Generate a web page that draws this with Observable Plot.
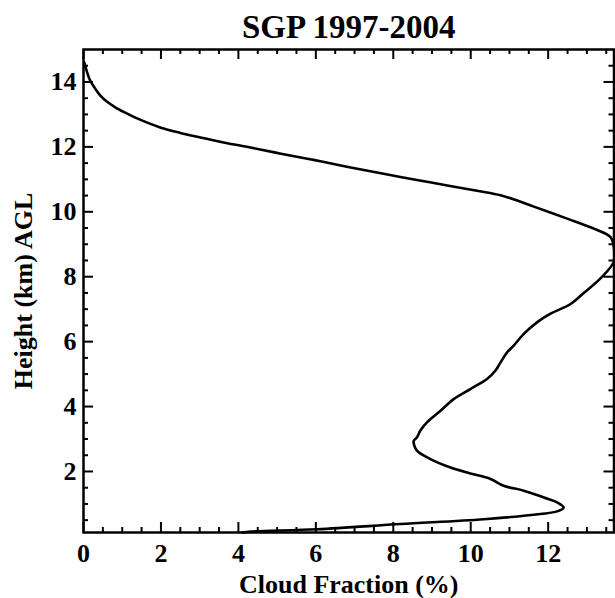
<!DOCTYPE html>
<html><head><meta charset="utf-8">
<script src="https://cdn.jsdelivr.net/npm/d3@7"></script>
<script src="https://cdn.jsdelivr.net/npm/@observablehq/plot@0.6"></script>
<style>html,body{margin:0;padding:0;background:#fff}</style>
</head><body><div id="chart"></div>
<script>
const titleText = "SGP 1997-2004";
const xLabel = "Cloud Fraction (%)";
const yLabel = "Height (km) AGL";

// Cloud fraction (%) profile, top to bottom
const cloudFraction = [0.02, 0.08, 0.17, 0.30, 0.43, 0.62, 0.82, 1.05, 1.34, 1.98, 2.50, 3.02, 3.65, 4.31, 5.10, 5.94, 6.80, 7.75, 8.61, 9.50, 10.20, 10.77, 11.20, 11.63, 12.49, 13.18, 13.61, 13.70, 13.69, 13.35, 12.92, 12.58, 12.06, 11.72, 11.37, 11.11, 10.94, 10.77, 10.64, 10.42, 9.99, 9.56, 9.22, 8.87, 8.70, 8.61, 8.53, 8.53, 8.61, 8.96, 9.48, 9.99, 10.51, 10.85, 11.37, 11.89, 12.23, 12.40, 12.23, 11.80, 10.34, 8.18, 6.03, 4.31, 4.10];
const heightKm = [14.60, 14.35, 14.05, 13.80, 13.59, 13.38, 13.22, 13.07, 12.90, 12.60, 12.43, 12.29, 12.13, 11.98, 11.79, 11.60, 11.39, 11.17, 10.98, 10.79, 10.64, 10.51, 10.35, 10.16, 9.79, 9.48, 9.22, 8.87, 8.45, 7.95, 7.50, 7.16, 6.86, 6.60, 6.24, 5.88, 5.67, 5.36, 5.11, 4.85, 4.54, 4.23, 3.87, 3.51, 3.26, 3.05, 2.95, 2.85, 2.64, 2.38, 2.12, 1.94, 1.77, 1.56, 1.41, 1.20, 1.05, 0.89, 0.77, 0.69, 0.53, 0.38, 0.22, 0.15, 0.12];

const xMajorTicks = [0, 2, 4, 6, 8, 10, 12];
const xMinorTicks = [0.5, 1, 1.5, 2.5, 3, 3.5, 4.5, 5, 5.5, 6.5, 7, 7.5, 8.5, 9, 9.5, 10.5, 11, 11.5, 12.5, 13, 13.5];
const yMajorTicks = [2, 4, 6, 8, 10, 12, 14];
const yMinorTicks = [0.5, 1, 1.5, 2.5, 3, 3.5, 4.5, 5, 5.5, 6.5, 7, 7.5, 8.5, 9, 9.5, 10.5, 11, 11.5, 12.5, 13, 13.5, 14.5];

const profile = cloudFraction.map((v, i) => ({cf: v, h: heightKm[i]}));
const serif = "'Liberation Serif', 'Times New Roman', 'DejaVu Serif', serif";

const W = 615, H = 598, mL = 83, mR = 1.5, mT = 49, mB = 66;
const plotW = W - mL - mR, plotH = H - mT - mB;
const majorLen = 10, minorLen = 5;
const tickStyle = {stroke: "#000", strokeWidth: 2};

const chart = Plot.plot({
  width: W,
  height: H,
  marginLeft: mL,
  marginRight: mR,
  marginTop: mT,
  marginBottom: mB,
  style: {fontFamily: serif, fontWeight: "bold", fontSize: "26px", color: "#000", background: "#fff", overflow: "visible"},
  x: {domain: [0, 13.7]},
  y: {domain: [0.12, 15]},
  marks: [
    // tick labels and axis titles
    Plot.axisX({anchor: "bottom", ticks: xMajorTicks, tickSize: 0, tickPadding: 11, fontSize: 26,
      label: xLabel, labelAnchor: "center", labelOffset: 60, labelArrow: "none"}),
    Plot.axisY({anchor: "left", ticks: yMajorTicks, tickSize: 0, tickPadding: 7, fontSize: 26,
      label: yLabel, labelAnchor: "center", labelOffset: 70, labelArrow: "none"}),
    // inward ticks: bottom, top, left, right
    Plot.tickX(xMajorTicks, {x: d => d, insetTop: plotH - majorLen, ...tickStyle}),
    Plot.tickX(xMinorTicks, {x: d => d, insetTop: plotH - minorLen, ...tickStyle}),
    Plot.tickX(xMajorTicks, {x: d => d, insetBottom: plotH - majorLen, ...tickStyle}),
    Plot.tickX(xMinorTicks, {x: d => d, insetBottom: plotH - minorLen, ...tickStyle}),
    Plot.tickY(yMajorTicks, {y: d => d, insetRight: plotW - majorLen, ...tickStyle}),
    Plot.tickY(yMinorTicks, {y: d => d, insetRight: plotW - minorLen, ...tickStyle}),
    Plot.tickY(yMajorTicks, {y: d => d, insetLeft: plotW - majorLen, ...tickStyle}),
    Plot.tickY(yMinorTicks, {y: d => d, insetLeft: plotW - minorLen, ...tickStyle}),
    Plot.frame({stroke: "#000", strokeWidth: 2.5}),
    Plot.line(profile, {x: "cf", y: "h", curve: "catmull-rom", stroke: "#000", strokeWidth: 2.6, sort: null}),
    Plot.text([titleText], {frameAnchor: "top", dy: -12, lineAnchor: "bottom", fontSize: 33, fontWeight: "bold", fill: "#000"})
  ]
});
document.getElementById("chart").appendChild(chart);
</script>
</body></html>
